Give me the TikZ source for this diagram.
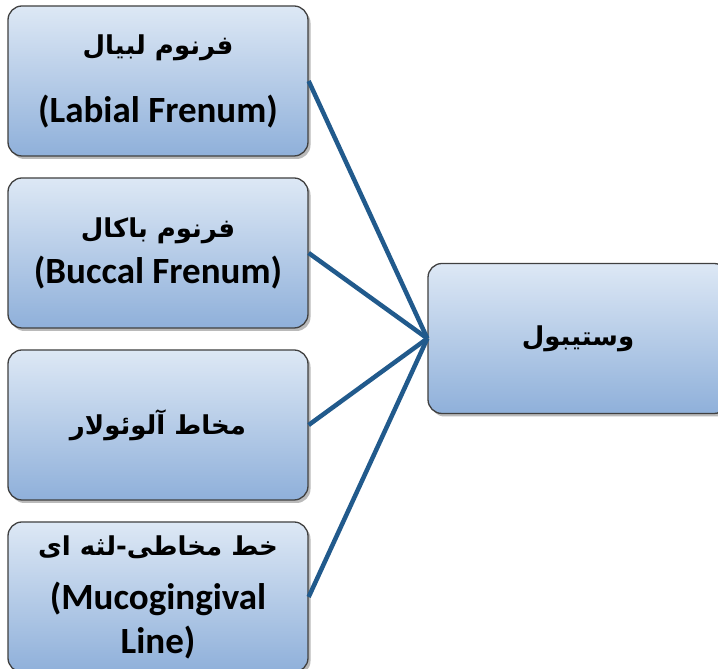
\documentclass[tikz,border=0pt]{standalone}
\usepackage{fontspec}
\setmainfont{Carlito}
\newfontfamily\arabicfont[Script=Arabic]{DejaVu Sans}
\TeXXeTstate=1
\usepackage{tikz}
\usetikzlibrary{shadows, positioning}
\definecolor{box-top}{HTML}{DDE8F5}
\definecolor{box-bottom}{HTML}{8FB0DA}
\definecolor{box-border}{HTML}{404040}
\definecolor{link-blue}{HTML}{215A8C}
\newcommand{\fatext}[1]{{\arabicfont\bfseries\fontsize{26}{34}\selectfont\beginR #1\endR}}

\begin{document}
\begin{tikzpicture}[x=1pt, y=1pt,
    part/.style={draw=box-border, line width=1.3pt, rounded corners=14pt,
        top color=box-top, bottom color=box-bottom,
        minimum width=300pt, minimum height=150pt, align=center,
        font=\bfseries\fontsize{37}{44}\selectfont,
        drop shadow={shadow xshift=2.5pt, shadow yshift=-3pt, fill=black!45, opacity=0.6}},
    link/.style={line width=4.5pt, link-blue}]
    \useasboundingbox (0,0) rectangle (718,669);
    \clip (0,0) rectangle (718,669);
    \fill[white] (0,0) rectangle (718,669);

    % Vestibule parts
    \node[part] (labial) at (158,588) {\fatext{فرنوم لبیال}\\[24pt] (Labial Frenum)};
    \node[part] (buccal) at (158,416) {\fatext{فرنوم باکال}\\[2pt] (Buccal Frenum)};
    \node[part] (alveolar) at (158,244) {\fatext{مخاط آلوئولار}};
    \node[part] (mucogingival) at (158,72) {\fatext{خط مخاطی-لثه ای}\\[10pt] (Mucogingival\\ Line)};

    % Vestibule
    \node[part] (vestibule) at (578,330.5) {\fatext{وستیبول}};

    % Links
    \foreach \name in {labial, buccal, alveolar, mucogingival} {
        \draw[link] (\name.east) -- (vestibule.west);
    }
\end{tikzpicture}
\end{document}
